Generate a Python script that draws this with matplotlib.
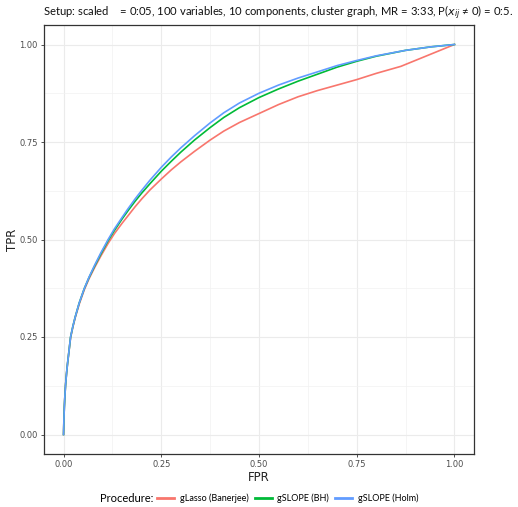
import matplotlib
matplotlib.use("Agg")
import matplotlib.pyplot as plt
from matplotlib.lines import Line2D

# ROC curves
fpr = [0, 0.001, 0.002, 0.0035, 0.005, 0.0075, 0.01, 0.014, 0.018, 0.024, 0.03, 0.04,
       0.053, 0.065, 0.08, 0.095, 0.114, 0.13, 0.15, 0.165, 0.183, 0.2, 0.221, 0.25,
       0.275, 0.3, 0.335, 0.375, 0.41, 0.45, 0.5, 0.55, 0.6, 0.65, 0.7, 0.75, 0.8,
       0.875, 0.94, 1.0]
tpr_holm = [0, 0.04, 0.07, 0.10, 0.125, 0.155, 0.18, 0.215, 0.25, 0.278, 0.302, 0.337,
            0.374, 0.403, 0.435, 0.465, 0.50, 0.527, 0.557, 0.579, 0.604, 0.626, 0.652, 0.685,
            0.711, 0.735, 0.766, 0.799, 0.825, 0.850, 0.875, 0.896, 0.914, 0.930, 0.946,
            0.959, 0.971, 0.985, 0.994, 1.0]
tpr_bh = [0, 0.04, 0.07, 0.10, 0.125, 0.155, 0.18, 0.215, 0.25, 0.278, 0.302, 0.337,
          0.374, 0.402, 0.433, 0.462, 0.497, 0.523, 0.553, 0.574, 0.598, 0.619, 0.643, 0.675,
          0.700, 0.724, 0.755, 0.787, 0.813, 0.838, 0.864, 0.886, 0.906, 0.924, 0.942,
          0.957, 0.970, 0.985, 0.994, 1.0]

fpr_lasso = [0, 0.001, 0.002, 0.0035, 0.005, 0.0075, 0.01, 0.014, 0.018, 0.024, 0.03, 0.04,
             0.053, 0.065, 0.08, 0.095, 0.114, 0.13, 0.15, 0.165, 0.183, 0.2, 0.221, 0.25,
             0.275, 0.3, 0.335, 0.375, 0.41, 0.45, 0.5, 0.55, 0.6, 0.65, 0.7, 0.75, 0.8,
             0.863, 1.0]
tpr_lasso = [0, 0.04, 0.07, 0.10, 0.125, 0.155, 0.18, 0.214, 0.248, 0.276, 0.300, 0.334,
             0.371, 0.399, 0.429, 0.457, 0.490, 0.515, 0.542, 0.561, 0.584, 0.604, 0.627, 0.655,
             0.678, 0.699, 0.726, 0.755, 0.778, 0.800, 0.823, 0.846, 0.866, 0.882, 0.896,
             0.910, 0.926, 0.944, 1.0]

labels = ["gLasso (Banerjee)", "gSLOPE (BH)", "gSLOPE (Holm)"]
colors = ["#F8766D", "#00BA38", "#619CFF"]
ticks = [0, 0.25, 0.5, 0.75, 1.0]
tick_labels = ["0.00", "0.25", "0.50", "0.75", "1.00"]
minor = [0.125, 0.375, 0.625, 0.875]

W, H = 518, 507
fig = plt.figure(figsize=(W / 100, H / 100), dpi=100)
ax = fig.add_axes([44 / W, (H - 454) / H, 430 / W, 429 / H])

for x, y, c in zip([fpr_lasso, fpr, fpr], [tpr_lasso, tpr_bh, tpr_holm], colors):
    ax.plot(x, y, color=c, lw=1.2, zorder=3, solid_joinstyle="round")

ax.set_xlim(-0.05, 1.05)
ax.set_ylim(-0.05, 1.05)
ax.set_xticks(ticks)
ax.set_xticklabels(tick_labels)
ax.set_yticks(ticks)
ax.set_yticklabels(tick_labels)
ax.set_xticks(minor, minor=True)
ax.set_yticks(minor, minor=True)
ax.grid(which="major", color="#EBEBEB", lw=0.8, zorder=0)
ax.grid(which="minor", color="#F2F2F2", lw=0.5, zorder=0)
ax.tick_params(which="major", length=2.5, width=0.6, color="#333333",
               labelsize=6, labelcolor="#4D4D4D", pad=2)
ax.tick_params(which="minor", length=0)
for s in ax.spines.values():
    s.set_color("#333333")
    s.set_linewidth(0.9)

ax.set_xlabel("FPR", fontsize=8.5, color="#222222", labelpad=1)
ax.set_ylabel("TPR", fontsize=8.5, color="#222222", labelpad=0)

fig.text(43 / W, 1 - 13 / H,
         "Setup: scaled    = 0:05, 100 variables, 10 components, cluster graph, MR = 3:33, "
         "P($x_{ij}$ ≠ 0) = 0:5.",
         fontsize=8.1, family="Lato", ha="left", va="center", color="#111111")

handles = [Line2D([], [], color=c, lw=2) for c in colors]
fig.text(100 / W, 1 - 498 / H, "Procedure:", fontsize=8, family="Lato",
         ha="left", va="center")
fig.legend(handles, labels, loc="center left", bbox_to_anchor=(157 / W, 1 - 498 / H),
           ncol=3, frameon=False, prop={"family": "Lato", "size": 6.5},
           handlelength=1.9, handletextpad=0.6, columnspacing=0.7, borderaxespad=0,
           borderpad=0)

fig.savefig("out.png", dpi=100)
